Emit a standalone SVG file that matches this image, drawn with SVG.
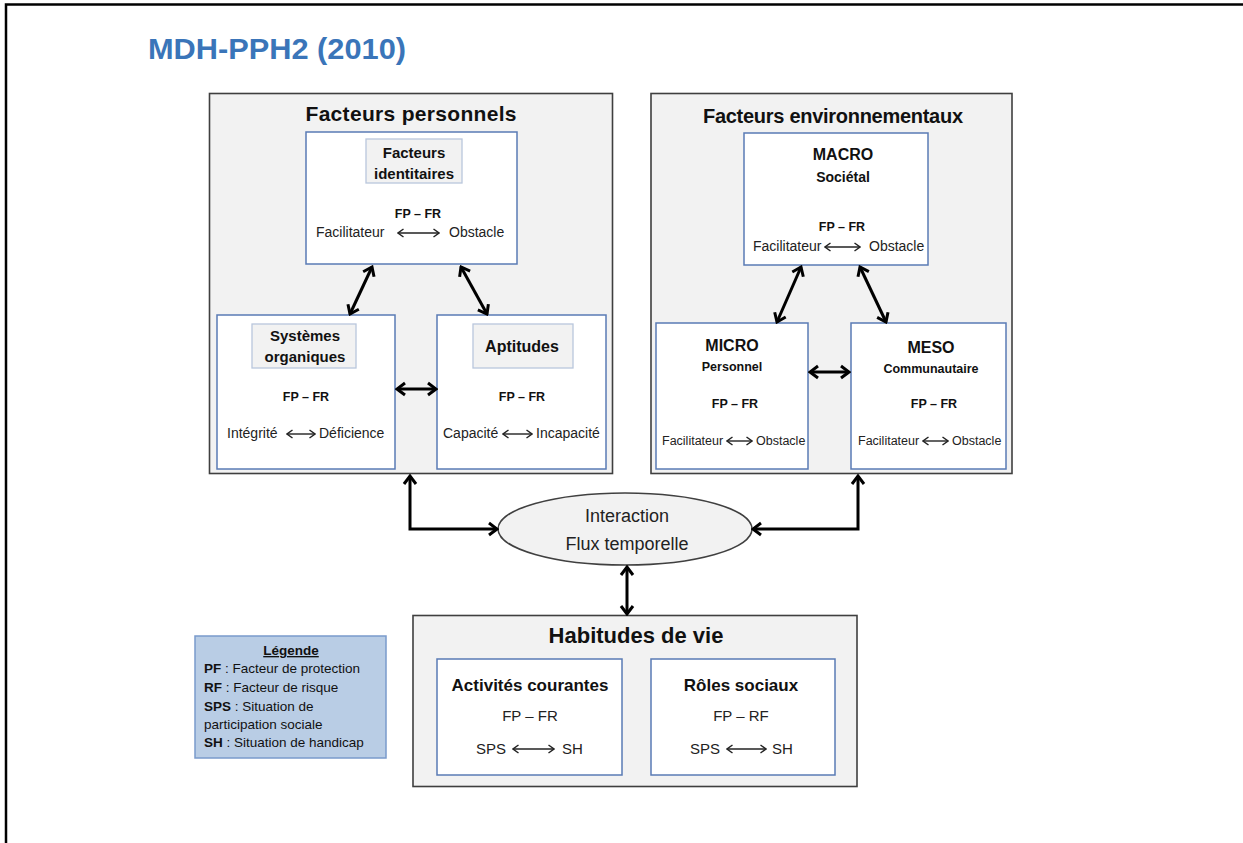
<svg xmlns="http://www.w3.org/2000/svg" width="1243" height="843" viewBox="0 0 1243 843">
<defs>
<style>
text{font-family:"Liberation Sans",Arial,sans-serif;fill:#111}
.b{font-weight:bold}
.m{text-anchor:middle}
.panel{fill:#f2f2f2;stroke:#3f3f3f;stroke-width:1.6}
.node{fill:#fff;stroke:#5a7bb5;stroke-width:1.5}
.lab{fill:#f2f2f2;stroke:#b9c6dc;stroke-width:1.3}
.conn{fill:none;stroke:#000;stroke-width:3;marker-start:url(#ah);marker-end:url(#ah)}
.small{fill:none;stroke:#222;stroke-width:1.4;marker-start:url(#as);marker-end:url(#as)}
.t14{font-size:14px;fill:#222}
.fp{font-size:12.5px;font-weight:bold}
</style>
<marker id="ah" viewBox="-11 -8 13 16" markerWidth="13" markerHeight="16" refX="0" refY="0" orient="auto-start-reverse" markerUnits="userSpaceOnUse">
<path d="M-8,-6 L0,0 L-8,6" fill="none" stroke="#000" stroke-width="3"/>
</marker>
<marker id="as" viewBox="-8 -5 9 10" markerWidth="9" markerHeight="10" refX="0" refY="0" orient="auto-start-reverse" markerUnits="userSpaceOnUse">
<path d="M-5.5,-4 L0,0 L-5.5,4" fill="none" stroke="#222" stroke-width="1.4"/>
</marker>
</defs>
<rect width="1243" height="843" fill="#fff"/>
<path d="M6,843 L6,4.5 L1243,4.5" fill="none" stroke="#000" stroke-width="2.5"/>
<text x="148" y="59" class="b" font-size="29" style="fill:#3a75b9" textLength="258" lengthAdjust="spacingAndGlyphs">MDH-PPH2 (2010)</text>

<g id="facteurs-personnels">
<rect class="panel" x="209.5" y="93.5" width="403" height="380"/>
<text x="411" y="121" class="b m" font-size="21" textLength="211">Facteurs personnels</text>
</g>
<g id="facteurs-identitaires">
<rect class="node" x="306" y="132" width="211" height="132"/>
<rect class="lab" x="366" y="139" width="96" height="44"/>
<text x="414" y="158" class="b m" font-size="15">Facteurs</text>
<text x="414" y="179" class="b m" font-size="15">identitaires</text>
<text x="418" y="218" class="fp m">FP – FR</text>
<text x="316" y="237" class="t14">Facilitateur</text>
<path class="small" d="M398,233 L439,233"/>
<text x="449" y="237" class="t14">Obstacle</text>
</g>
<g id="systemes-organiques">
<rect class="node" x="217" y="315" width="178" height="154"/>
<rect class="lab" x="252" y="324" width="104" height="44"/>
<text x="305" y="341" class="b m" font-size="15">Systèmes</text>
<text x="305" y="362" class="b m" font-size="15">organiques</text>
<text x="306" y="401" class="fp m">FP – FR</text>
<text x="227" y="438" class="t14">Intégrité</text>
<path class="small" d="M287,434 L315,434"/>
<text x="319" y="438" class="t14">Déficience</text>
</g>
<g id="aptitudes">
<rect class="node" x="437" y="315" width="169" height="154"/>
<rect class="lab" x="473" y="324" width="100" height="44"/>
<text x="522" y="352" class="b m" font-size="16">Aptitudes</text>
<text x="522" y="401" class="fp m">FP – FR</text>
<text x="443" y="438" class="t14">Capacité</text>
<path class="small" d="M503,434 L532,434"/>
<text x="536" y="438" class="t14">Incapacité</text>
</g>

<g id="facteurs-environnementaux">
<rect class="panel" x="651" y="93.5" width="361" height="380"/>
<text x="833" y="123" class="b m" font-size="20" textLength="260">Facteurs environnementaux</text>
</g>
<g id="macro">
<rect class="node" x="744" y="133" width="184" height="132"/>
<text x="843" y="160" class="b m" font-size="16">MACRO</text>
<text x="843" y="182" class="b m" font-size="14">Sociétal</text>
<text x="842" y="231" class="fp m">FP – FR</text>
<text x="753" y="251" class="t14">Facilitateur</text>
<path class="small" d="M825,247 L860,247"/>
<text x="869" y="251" class="t14">Obstacle</text>
</g>
<g id="micro">
<rect class="node" x="656" y="323" width="152" height="146"/>
<text x="732" y="351" class="b m" font-size="16">MICRO</text>
<text x="732" y="371" class="b m" font-size="12.5">Personnel</text>
<text x="735" y="408" class="fp m">FP – FR</text>
<text x="662" y="445" class="t14" style="font-size:12.5px">Facilitateur</text>
<path class="small" d="M727,441 L752,441"/>
<text x="756" y="445" class="t14" style="font-size:12.5px">Obstacle</text>
</g>
<g id="meso">
<rect class="node" x="851" y="323" width="155" height="146"/>
<text x="931" y="353" class="b m" font-size="16">MESO</text>
<text x="931" y="373" class="b m" font-size="12.5">Communautaire</text>
<text x="934" y="408" class="fp m">FP – FR</text>
<text x="858" y="445" class="t14" style="font-size:12.5px">Facilitateur</text>
<path class="small" d="M923,441 L948,441"/>
<text x="952" y="445" class="t14" style="font-size:12.5px">Obstacle</text>
</g>

<g id="interaction">
<ellipse cx="625" cy="529" rx="127" ry="36" fill="#f2f2f2" stroke="#404040" stroke-width="1.5"/>
<text x="627" y="522" class="m" font-size="18" style="fill:#222">Interaction</text>
<text x="627" y="550" class="m" font-size="18" style="fill:#222">Flux temporelle</text>
</g>

<g id="habitudes-de-vie">
<rect class="panel" x="413" y="615.5" width="444" height="171"/>
<text x="636" y="643" class="b m" font-size="22">Habitudes de vie</text>
</g>
<g id="activites-courantes">
<rect class="node" x="437" y="659" width="185" height="116"/>
<text x="530" y="691" class="b m" font-size="17">Activités courantes</text>
<text x="530" y="721" class="m" font-size="15" style="fill:#222">FP – FR</text>
<text x="476" y="754" font-size="15" style="fill:#222">SPS</text>
<path class="small" d="M513,749 L554,749"/>
<text x="562" y="754" font-size="15" style="fill:#222">SH</text>
</g>
<g id="roles-sociaux">
<rect class="node" x="651" y="659" width="184" height="116"/>
<text x="741" y="691" class="b m" font-size="17">Rôles sociaux</text>
<text x="741" y="721" class="m" font-size="15" style="fill:#222">FP – RF</text>
<text x="690" y="754" font-size="15" style="fill:#222">SPS</text>
<path class="small" d="M727,749 L766,749"/>
<text x="772" y="754" font-size="15" style="fill:#222">SH</text>
</g>

<g id="legende">
<rect x="195" y="636" width="191" height="122" fill="#b9cde5" stroke="#7a9acb" stroke-width="1.5"/>
<text x="291" y="655" class="b m" font-size="13.5" text-decoration="underline">Légende</text>
<text x="204" y="673" font-size="13.5"><tspan class="b">PF</tspan> : Facteur de protection</text>
<text x="204" y="692" font-size="13.5"><tspan class="b">RF</tspan> : Facteur de risque</text>
<text x="204" y="711" font-size="13.5"><tspan class="b">SPS</tspan> : Situation de</text>
<text x="204" y="729" font-size="13.5">participation sociale</text>
<text x="204" y="747" font-size="13.5"><tspan class="b">SH</tspan> : Situation de handicap</text>
</g>

<g id="connectors">
<path class="conn" d="M372,267 L350,314"/>
<path class="conn" d="M461,267 L487,314"/>
<path class="conn" d="M397,389 L436,389"/>
<path class="conn" d="M801,267 L777,322"/>
<path class="conn" d="M860,267 L886,322"/>
<path class="conn" d="M810,372 L849,372"/>
<path class="conn" d="M410,476 L410,529 L497,529"/>
<path class="conn" d="M858,476 L858,529 L753,529"/>
<path class="conn" d="M627,567 L627,614"/>
</g>
</svg>
